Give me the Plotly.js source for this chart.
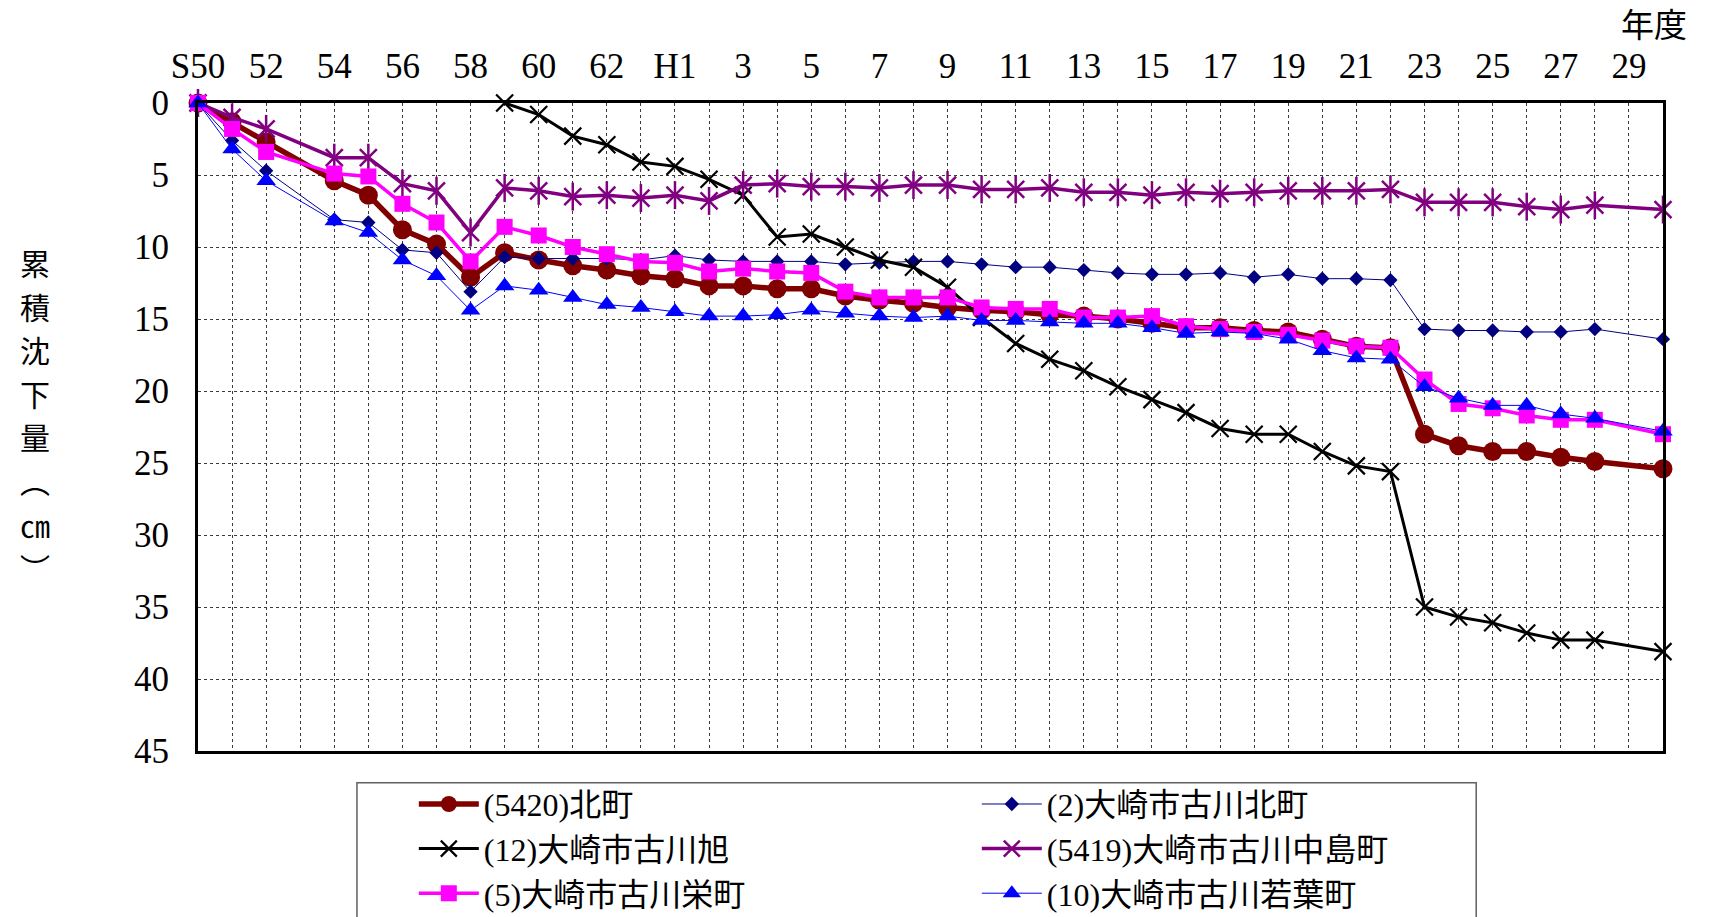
<!DOCTYPE html>
<html>
<head>
<meta charset="utf-8">
<script src="https://cdn.plot.ly/plotly-3.0.1.min.js"></script>
<style>
html,body{margin:0;padding:0;background:#fff;}
#chart{width:1710px;height:917px;}
</style>
</head>
<body>
<div id="chart"></div>
<script>
// Fiscal-year categories (S50 = 1975 ... H30 = 2018)
const fiscalYears = ['S50','S51','S52','S53','S54','S55','S56','S57','S58','S59','S60','S61','S62','S63',
  'H1','H2','H3','H4','H5','H6','H7','H8','H9','H10','H11','H12','H13','H14','H15','H16','H17','H18','H19',
  'H20','H21','H22','H23','H24','H25','H26','H27','H28','H29','H30'];
// Tick labels shown on the top axis (blank = grid line only)
const tickLabels = ['S50','','52','','54','','56','','58','','60','','62','','H1','','3','','5','','7','','9','',
  '11','','13','','15','','17','','19','','21','','23','','25','','27','','29',''];
const yTicks = [0,5,10,15,20,25,30,35,40,45];
const yTitleChars = ['累','積','沈','下','量','︵','㎝','︶'];

// Series names
const seriesNames = ['(5420)北町','(2)大崎市古川北町','(12)大崎市古川旭','(5419)大崎市古川中島町','(5)大崎市古川栄町','(10)大崎市古川若葉町'];

// Cumulative subsidence (cm)
const kitamachi5420 = [0,1.3,2.7,null,5.4,6.4,8.8,9.8,12.1,
  10.4,10.9,11.3,11.6,12.0,12.2,12.7,12.7,12.9,
  12.9,13.4,13.7,13.9,14.2,14.4,14.5,14.7,14.8,
  15.0,15.3,15.6,15.6,15.8,15.9,16.4,16.9,17.0,
  23.0,23.8,24.2,24.2,24.6,24.9,null,25.4];
const furukawaKita2 = [0,2.6,4.7,null,8.1,8.3,10.2,10.4,13.1,
  10.7,10.8,10.8,10.8,10.9,10.6,10.9,11.0,11.0,
  11.0,11.2,11.1,11.0,11.0,11.2,11.4,11.4,11.6,
  11.8,11.9,11.9,11.8,12.1,11.9,12.2,12.2,12.3,
  15.7,15.8,15.8,15.9,15.9,15.7,null,16.4];
const furukawaAsahi12 = [null,null,null,null,null,null,null,null,null,
  0,0.8,2.3,2.9,4.1,4.4,5.3,6.4,9.3,
  9.1,10.0,10.9,11.4,12.8,14.9,16.7,17.8,18.6,
  19.7,20.6,21.5,22.6,23.0,23.0,24.2,25.2,25.6,
  35.0,35.7,36.1,36.8,37.3,37.3,null,38.1];
const furukawaNakajima5419 = [0,1.0,1.8,null,3.8,3.8,5.6,6.1,9.0,
  5.9,6.1,6.5,6.4,6.6,6.4,6.8,5.7,5.6,
  5.8,5.8,5.9,5.7,5.7,6.0,6.0,5.9,6.2,
  6.2,6.4,6.2,6.3,6.2,6.1,6.1,6.1,6.0,
  6.9,6.9,6.9,7.2,7.4,7.1,null,7.4];
const furukawaSakae5 = [0,1.8,3.4,null,4.9,5.1,7.0,8.3,11.0,
  8.6,9.2,10.0,10.5,11.0,11.1,11.7,11.5,11.7,
  11.8,13.1,13.5,13.5,13.5,14.2,14.3,14.3,14.9,
  14.9,14.8,15.5,15.7,15.9,16.1,16.5,16.9,17.0,
  19.2,20.9,21.2,21.7,22.0,22.0,null,23.0];
const furukawaWakaba10 = [0,3.2,5.4,null,8.2,9.0,10.9,12.0,14.4,
  12.7,13.0,13.5,14.0,14.2,14.5,14.8,14.8,14.7,
  14.4,14.6,14.8,14.9,14.8,15.1,15.1,15.2,15.3,
  15.3,15.6,16.0,15.9,16.0,16.4,17.2,17.7,17.8,
  19.7,20.5,21.0,21.0,21.6,21.9,null,22.8];

const FONT = "'Liberation Serif', 'Noto Sans CJK JP', serif";
const CJK = "'Noto Sans CJK JP', sans-serif";

function tr(name, y, line, marker, extra) {
  return Object.assign({
    type: 'scatter', mode: 'lines+markers', name: name,
    x: fiscalYears, y: y, connectgaps: true, cliponaxis: false,
    line: line, marker: marker
  }, extra || {});
}

const data = [
  tr(seriesNames[0], kitamachi5420, {color:'#800000', width:5.5}, {symbol:'circle', size:19, color:'#800000'}),
  tr(seriesNames[1], furukawaKita2, {color:'#000080', width:1}, {symbol:'diamond', size:11, color:'#000080'}),
  tr(seriesNames[2], furukawaAsahi12, {color:'#000000', width:3}, {symbol:'x-thin-open', size:17, color:'#000000', line:{color:'#000000', width:2.2}}),
  tr(seriesNames[3], furukawaNakajima5419, {color:'#800080', width:3.5}, {symbol:'x-thin-open', size:17, color:'#800080', line:{color:'#800080', width:2.5}}),
  tr(seriesNames[3], furukawaNakajima5419, {color:'#800080', width:0}, {symbol:'line-ns-open', size:20, color:'#800080', line:{color:'#800080', width:2.5}}, {mode:'markers', showlegend:false, hoverinfo:'skip'}),
  tr(seriesNames[4], furukawaSakae5, {color:'#FF00FF', width:3.5}, {symbol:'square', size:16, color:'#FF00FF'}),
  tr(seriesNames[5], furukawaWakaba10, {color:'#0000FF', width:1}, {symbol:'triangle-up', size:17, color:'#0000FF'})
];

// vertical (stacked) y-axis title, one character per annotation
const plotTop = 103, plotH = 648, titleTop = 262, titleStep = 43.6;
const titleAnnotations = yTitleChars.map((ch, k) => ({
  text: ch, xref: 'paper', yref: 'paper',
  x: -0.111, y: 1 - (titleTop + k * titleStep - plotTop) / plotH,
  xanchor: 'center', yanchor: 'middle', showarrow: false,
  font: {family: CJK, size: 30, color: '#000'}
}));

const layout = {
  width: 1710, height: 917,
  margin: {l:198, r:47, t:plotTop, b:166},
  paper_bgcolor: '#ffffff', plot_bgcolor: '#ffffff',
  font: {family: FONT, color: '#000000', size: 34},
  showlegend: true,
  xaxis: {
    type: 'category', side: 'top', range: [0, fiscalYears.length - 1],
    tickmode: 'array', tickvals: fiscalYears, ticktext: tickLabels,
    ticks: '', ticklabelstandoff: 8,
    tickfont: {family: FONT, size: 35, color: '#000'},
    showgrid: true, gridcolor: '#3a3a3a', gridwidth: 1, griddash: 'dot',
    showline: true, linecolor: '#000', linewidth: 3, mirror: true,
    zeroline: false, fixedrange: true
  },
  yaxis: {
    range: [45, 0], tickmode: 'array', tickvals: yTicks,
    ticks: '', ticklabelstandoff: 19,
    tickfont: {family: FONT, size: 35, color: '#000'},
    showgrid: true, gridcolor: '#3a3a3a', gridwidth: 1, griddash: 'dot',
    showline: true, linecolor: '#000', linewidth: 3, mirror: true,
    zeroline: false, fixedrange: true
  },
  legend: {
    orientation: 'h', xref: 'container', yref: 'container',
    x: 0.242, xanchor: 'left', y: 0.153, yanchor: 'top',
    entrywidth: 488, entrywidthmode: 'pixels', itemwidth: 60,
    bgcolor: 'rgba(0,0,0,0)', borderwidth: 0,
    font: {family: FONT, size: 32, color: '#000'},
    tracegroupgap: 0
  },
  shapes: [{
    type: 'rect', xref: 'paper', yref: 'paper',
    x0: 0.1085, x1: 0.8725, y0: -0.049, y1: -0.30,
    line: {color: '#606060', width: 1.5}, fillcolor: 'rgba(0,0,0,0)', layer: 'below'
  }],
  annotations: titleAnnotations.concat([
    {text: '年度', xref: 'paper', yref: 'paper', x: 0.994, y: 1.124,
     xanchor: 'center', yanchor: 'middle', showarrow: false,
     font: {family: CJK, size: 33, color: '#000'}}
  ])
};

Plotly.newPlot('chart', data, layout, {displayModeBar: false, staticPlot: true});
</script>
</body>
</html>
